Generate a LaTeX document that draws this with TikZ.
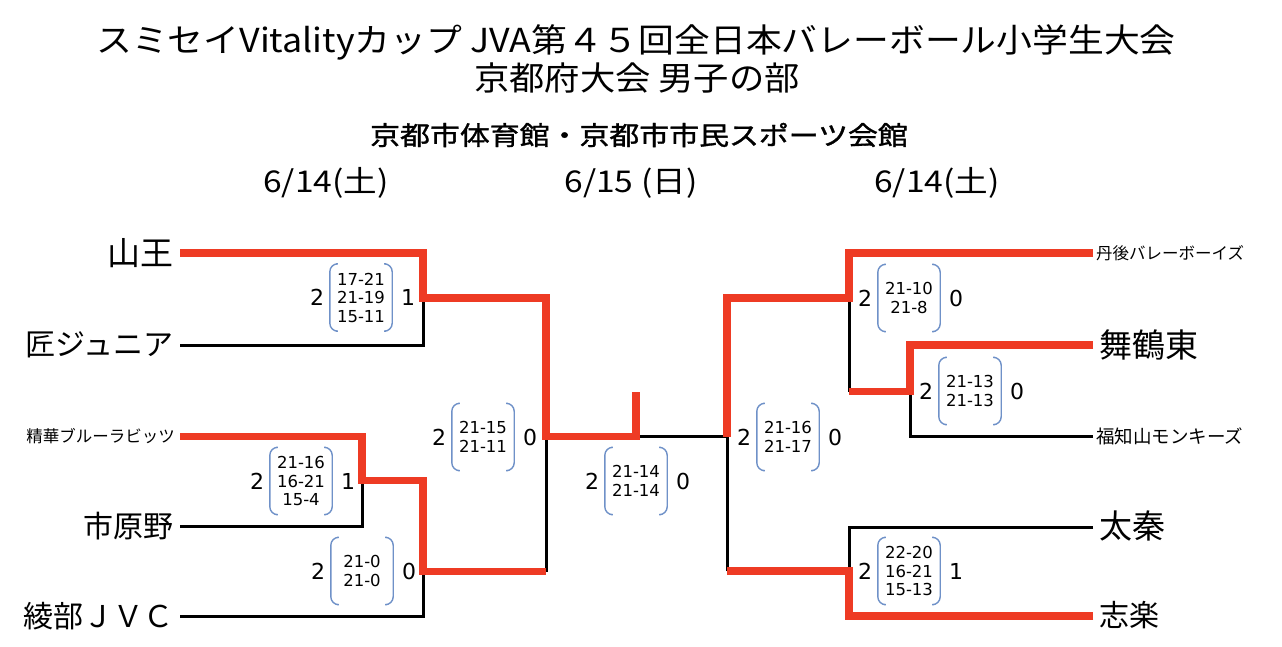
\documentclass[tikz,border=0pt]{standalone}
\usepackage{fontspec}
\setmainfont{Noto Sans CJK JP}
\newfontfamily\numfont{DejaVu Sans}
\definecolor{brred}{HTML}{EE3B24}
\definecolor{brblue}{HTML}{6F91C8}
\tikzset{
  winline/.style={draw=brred, line width=7.5pt, line join=miter},
  loseline/.style={draw=black, line width=3pt, line join=miter},
  brk/.style={draw=brblue, line width=1.4pt, rounded corners=8pt},
  scorebox/.style={minimum width=62pt, minimum height=67pt, inner sep=0pt, align=center,
    font=\numfont\fontsize{16.5}{18.5}\selectfont},
  bignum/.style={inner sep=0pt, font=\numfont\fontsize{22}{24}\selectfont},
  bigname/.style={inner sep=0pt, font=\fontsize{30}{32}\selectfont},
  hugename/.style={inner sep=0pt, font=\fontsize{33}{35}\selectfont},
  smallname/.style={inner sep=0pt, font=\fontsize{16.5}{18}\selectfont},
  titlef/.style={inner sep=0pt, font=\fontsize{33}{35}\selectfont},
  subf/.style={inner sep=0pt, font=\fontsize{26}{28}\selectfont\addfontfeature{FakeBold=1.2}},
  datef/.style={inner sep=0pt, font=\fontsize{30}{32}\selectfont},
}
\newcommand\scoreblk[6]{%
  \node[scorebox] (#1) at (#2,#3) {#5};
  \draw[brk] ([xshift=6pt]#1.north west) -- (#1.north west) -- (#1.south west) -- ([xshift=6pt]#1.south west);
  \draw[brk] ([xshift=-6pt]#1.north east) -- (#1.north east) -- (#1.south east) -- ([xshift=-6pt]#1.south east);
  \node[bignum] (#1l) at ([xshift=-44pt]#1.center) {#4};
  \node[bignum] (#1r) at ([xshift=47pt]#1.center) {#6};
}
\begin{document}
\begin{tikzpicture}[x=1pt,y=-1pt]
\useasboundingbox[fill=white] (0,0) rectangle (1282,647);
% titles
\node[titlef] (title1) at (636,42) {\scalebox{1.085}[1]{スミセイVitalityカップ JVA第４５回全日本バレーボール小学生大会}};
\node[titlef] (title2) at (637,78) {\scalebox{1.07}[1]{京都府大会 男子の部}};
\node[subf] (venue) at (639,135) {\scalebox{1.15}[1]{京都市体育館・京都市市民スポーツ会館}};
\node[datef] (d1) at (326,183) {\scalebox{1.12}[1]{6/14(土)}};
\node[datef] (d2) at (631,183) {\scalebox{1.12}[1]{6/15 (日)}};
\node[datef] (d3) at (937,183) {\scalebox{1.12}[1]{6/14(土)}};
% team names
\node[hugename, anchor=east] (n1) at (174,253) {山王};
\node[bigname, anchor=east] (n2) at (174,345) {匠ジュニア};
\node[smallname, anchor=east] (n3) at (175,436) {精華ブルーラビッツ};
\node[bigname, anchor=east] (n4) at (174,526) {市原野};
\node[bigname, anchor=east] (n5) at (174,616) {綾部ＪＶＣ};
\node[smallname, anchor=west] (m1) at (1096,253) {丹後バレーボーイズ};
\node[hugename, anchor=west] (m2) at (1099,345) {舞鶴東};
\node[smallname, anchor=west, font=\fontsize{18.5}{20}\selectfont] (m3) at (1096,436) {福知山モンキーズ};
\node[hugename, anchor=west] (m4) at (1099,526) {太秦};
\node[bigname, anchor=west] (m5) at (1099,615) {志楽};
% coordinates
\coordinate (t1) at (180,253);
\coordinate (t2) at (180,345.5);
\coordinate (t3) at (180,436.5);
\coordinate (t4) at (180,526.5);
\coordinate (t5) at (180,616.5);
\coordinate (j1) at (423,298);
\coordinate (jA) at (362,480.5);
\coordinate (j3) at (423,571.5);
\coordinate (sL1) at (546,298);
\coordinate (jS) at (546,436.5);
\coordinate (sL3) at (546,571.5);
\coordinate (F) at (636,436.5);
\coordinate (Fc) at (636,392);
\coordinate (jT) at (727,436.5);
\coordinate (sR1) at (727,298);
\coordinate (sR3) at (727,571);
\coordinate (r1) at (1093,253);
\coordinate (r2) at (1093,345);
\coordinate (r3) at (1093,436.5);
\coordinate (r4) at (1093,527);
\coordinate (r5) at (1093,616);
\coordinate (jR1) at (849,298);
\coordinate (jR2) at (910,391.5);
\coordinate (mR2) at (849,391.5);
\coordinate (jR3) at (849,571);
% losing lines
\draw[loseline] (t2) -| (j1);
\draw[loseline] (t4) -| (jA);
\draw[loseline] (t5) -| (j3);
\draw[loseline] (sL3) -- (jS);
\draw[loseline] (F) -- (jT);
\draw[loseline] (sR3) -- (jT);
\draw[loseline] (mR2) -- (jR1);
\draw[loseline] (r3) -| (jR2);
\draw[loseline] (r4) -| (jR3);
% winning lines
\draw[winline] (t1) -| (j1) -- (sL1) -- (jS) -- (F) -- (Fc);
\draw[winline] (t3) -| (jA) -| (j3) -- (sL3);
\draw[winline] (r1) -| (jR1) -- (sR1) -- (jT);
\draw[winline] (r2) -| (jR2) -- (mR2);
\draw[winline] (r5) -| (jR3) -- (sR3);
% scores
\scoreblk{sa}{361}{297.5}{2}{17-21\\21-19\\15-11}{1}
\scoreblk{sb}{301}{481}{2}{21-16\\16-21\\15-4}{1}
\scoreblk{sc}{362}{571}{2}{21-0\\21-0}{0}
\scoreblk{sd}{483}{437}{2}{21-15\\21-11}{0}
\scoreblk{se}{636}{481}{2}{21-14\\21-14}{0}
\scoreblk{sf}{788}{437}{2}{21-16\\21-17}{0}
\scoreblk{sg}{909}{298}{2}{21-10\\21-8}{0}
\scoreblk{sh}{970}{391}{2}{21-13\\21-13}{0}
\scoreblk{si}{909}{571}{2}{22-20\\16-21\\15-13}{1}
\end{tikzpicture}
\end{document}
